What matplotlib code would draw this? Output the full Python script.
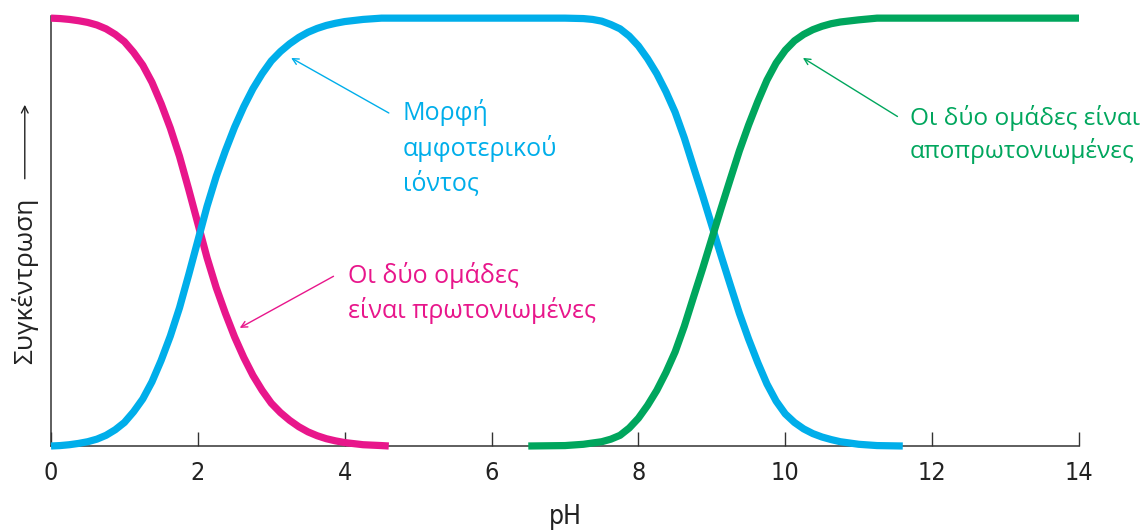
import matplotlib
matplotlib.use("Agg")
import matplotlib.pyplot as plt

# ---------------- data ----------------
ph_protonated = [0, 0.125, 0.25, 0.375, 0.5, 0.625, 0.75, 0.875, 1.0, 1.125, 1.25,
                 1.375, 1.5, 1.625, 1.75, 1.875, 2.0, 2.125, 2.25, 2.375, 2.5,
                 2.625, 2.75, 2.875, 3.0, 3.125, 3.25, 3.375, 3.5, 3.625, 3.75,
                 3.875, 4.0, 4.25, 4.5, 4.6]
conc_protonated = [1.0, 0.999, 0.997, 0.994, 0.99, 0.984, 0.975, 0.962, 0.945, 0.92,
                   0.89, 0.85, 0.80, 0.743, 0.677, 0.60, 0.52, 0.44, 0.37, 0.31,
                   0.255, 0.207, 0.165, 0.13, 0.10, 0.078, 0.06, 0.045, 0.033,
                   0.024, 0.017, 0.012, 0.008, 0.003, 0.001, 0.0]

ph_zwitterion = [0, 0.125, 0.25, 0.375, 0.5, 0.625, 0.75, 0.875, 1.0, 1.125, 1.25,
                 1.375, 1.5, 1.625, 1.75, 1.875, 2.0, 2.125, 2.25, 2.375, 2.5,
                 2.625, 2.75, 2.875, 3.0, 3.125, 3.25, 3.375, 3.5, 3.625, 3.75,
                 3.875, 4.0, 4.25, 4.5, 5.0, 5.5, 6.0, 6.5, 7.0, 7.25, 7.375, 7.5,
                 7.625, 7.75, 7.875, 8.0, 8.125, 8.25, 8.375, 8.5, 8.625, 8.75,
                 8.875, 9.0, 9.125, 9.25, 9.375, 9.5, 9.625, 9.75, 9.875, 10.0,
                 10.125, 10.25, 10.375, 10.5, 10.625, 10.75, 11.0, 11.25, 11.6]
conc_zwitterion = [0.0, 0.001, 0.003, 0.006, 0.01, 0.016, 0.025, 0.038, 0.055, 0.08,
                   0.11, 0.15, 0.20, 0.257, 0.323, 0.40, 0.48, 0.56, 0.63, 0.69,
                   0.745, 0.793, 0.835, 0.87, 0.90, 0.922, 0.94, 0.955, 0.967,
                   0.976, 0.983, 0.988, 0.992, 0.997, 1.0, 1.0, 1.0, 1.0, 1.0, 1.0,
                   0.999, 0.997, 0.993, 0.985, 0.975, 0.958, 0.935, 0.905, 0.87,
                   0.828, 0.78, 0.72, 0.652, 0.585, 0.515, 0.445, 0.377, 0.31, 0.25,
                   0.195, 0.145, 0.105, 0.075, 0.055, 0.04, 0.029, 0.021, 0.015,
                   0.01, 0.004, 0.001, 0.0]

ph_deprotonated = [6.5, 7.0, 7.25, 7.375, 7.5, 7.625, 7.75, 7.875, 8.0, 8.125, 8.25,
                   8.375, 8.5, 8.625, 8.75, 8.875, 9.0, 9.125, 9.25, 9.375, 9.5,
                   9.625, 9.75, 9.875, 10.0, 10.125, 10.25, 10.375, 10.5, 10.625,
                   10.75, 11.0, 11.25, 11.5, 14.0]
conc_deprotonated = [0.0, 0.001, 0.004, 0.007, 0.01, 0.016, 0.025, 0.042, 0.065,
                     0.095, 0.13, 0.172, 0.22, 0.28, 0.348, 0.415, 0.485, 0.555,
                     0.623, 0.69, 0.75, 0.805, 0.855, 0.895, 0.925, 0.947, 0.962,
                     0.973, 0.981, 0.987, 0.991, 0.996, 1.0, 1.0, 1.0]

x_ticks = [0, 2, 4, 6, 8, 10, 12, 14]
x_label = "pH"
y_label = "Συγκέντρωση"
label_zwitterion = "Μορφή\nαμφοτερικού\nιόντος"
label_protonated = "Οι δύο ομάδες\nείναι πρωτονιωμένες"
label_deprotonated = "Οι δύο ομάδες είναι\nαποπρωτονιωμένες"

# ---------------- style ----------------
MAGENTA = "#E8168B"
BLUE = "#00AEEA"
GREEN = "#00A65D"
INK = "#222222"

text_font = ["Open Sans", "DejaVu Sans"]

fig = plt.figure(figsize=(11.45, 5.31), dpi=100)
ax = fig.add_axes([51 / 1145, (531 - 446) / 531, 1028 / 1145, 430 / 531])

lw = 5.2
for xs, ys, c in ((ph_protonated, conc_protonated, MAGENTA),
                  (ph_zwitterion, conc_zwitterion, BLUE),
                  (ph_deprotonated, conc_deprotonated, GREEN)):
    ax.plot(xs, ys, color=c, lw=lw, solid_capstyle="butt",
            solid_joinstyle="round", clip_on=False, zorder=3)

ax.set_xlim(0, 14)
ax.set_ylim(0, 1.005)
for s in ("top", "right"):
    ax.spines[s].set_visible(False)
for s in ("left", "bottom"):
    ax.spines[s].set_color("#333333")
    ax.spines[s].set_linewidth(1.1)

ax.set_yticks([])
ax.set_xticks(x_ticks)
ax.tick_params(axis="x", direction="in", length=10, width=1.0, color="#333333",
               pad=11, labelsize=18, labelcolor=INK)
for t in ax.get_xticklabels():
    t.set_family("DejaVu Sans")
    t.set_fontstretch("condensed")

ax.set_xlabel(x_label, fontsize=19, family="DejaVu Sans", fontstretch="condensed",
              color=INK)
ax.xaxis.set_label_coords(0.5, -0.135)

# y label + arrow
ax.text(-0.0255, 0.384, y_label, rotation=90, ha="center", va="center",
        fontsize=19, family=text_font, color=INK, transform=ax.transAxes,
        clip_on=False)
ax.annotate("", xy=(-0.0255, 0.80), xytext=(-0.0255, 0.615),
            xycoords="axes fraction", textcoords="axes fraction",
            arrowprops=dict(arrowstyle="->", color=INK, lw=1.0, mutation_scale=12))

# annotations
arrow_kw = dict(arrowstyle="->", lw=1.0, mutation_scale=11, shrinkA=0, shrinkB=0)
ax.annotate(label_zwitterion, xy=(3.27, 0.907), xytext=(4.79, 0.81),
            ha="left", va="top", fontsize=18, family=text_font, color=BLUE,
            linespacing=1.42,
            arrowprops=dict(color=BLUE, relpos=(-0.09, 0.86), **arrow_kw))
ax.annotate(label_protonated, xy=(2.57, 0.276), xytext=(4.05, 0.43),
            ha="left", va="top", fontsize=18, family=text_font, color=MAGENTA,
            linespacing=1.38,
            arrowprops=dict(color=MAGENTA, relpos=(-0.06, 0.77), **arrow_kw))
ax.annotate(label_deprotonated, xy=(10.24, 0.907), xytext=(11.7, 0.798),
            ha="left", va="top", fontsize=17.6, family=text_font, color=GREEN,
            linespacing=1.38,
            arrowprops=dict(color=GREEN, relpos=(-0.055, 0.8), **arrow_kw))

fig.savefig("out.png", dpi=100)
